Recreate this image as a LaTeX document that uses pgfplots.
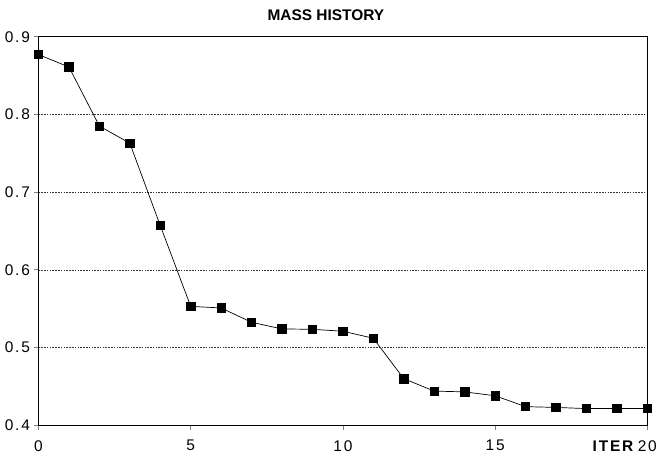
\documentclass[border=0pt]{standalone}
\usepackage{fontspec}
\setmainfont{Liberation Sans}
\usepackage{pgfplots}
\pgfplotsset{compat=1.18}

\begin{document}
\begin{tikzpicture}
\begin{axis}[
  name=ax,
  scale only axis,
  width=608.8bp, height=388.6bp,
  xmin=0, xmax=20, ymin=0.4, ymax=0.9,
  xtick={0,5,10,15,20},
  xticklabels={0,5,10,15,\llap{\textbf{ITER}\,}20},
  ytick={0.4,0.5,0.6,0.7,0.8,0.9},
  /pgf/number format/assume math mode=true,
  yticklabel style={/pgf/number format/fixed,/pgf/number format/precision=1,/pgf/number format/fixed zerofill},
  tick label style={font=\fontsize{15.5}{17}\selectfont\addfontfeatures{LetterSpace=12}},
  tick align=outside,
  major tick length=5bp,
  tick style={line width=0.8pt},
  xtick pos=bottom, ytick pos=left,
  xticklabel shift=6.5bp,
  ymajorgrids,
  major grid style={black!80, dash pattern=on 1.6pt off 1.2pt, line width=0.6pt},
  axis line style={line width=1pt},
  title={\textbf{MASS HISTORY}},
  title style={font=\fontsize{15.5}{17}\selectfont, yshift=6.4bp, xshift=-17bp},
]
\addplot[black, line width=0.7pt, mark=square*, mark size=4.2bp] coordinates {
(0,0.877) (1,0.861) (2,0.785) (3,0.763) (4,0.657)
(5,0.553) (6,0.551) (7,0.5325) (8,0.524) (9,0.5235)
(10,0.521) (11,0.512) (12,0.460) (13,0.444) (14,0.443)
(15,0.438) (16,0.424) (17,0.423) (18,0.4215) (19,0.4215) (20,0.4215)
};
\end{axis}
\pgfresetboundingbox
\path ([xshift=-38.5bp,yshift=-30.7bp]ax.south west) rectangle ([xshift=9.7bp,yshift=36.7bp]ax.north east);
\end{tikzpicture}
\end{document}
